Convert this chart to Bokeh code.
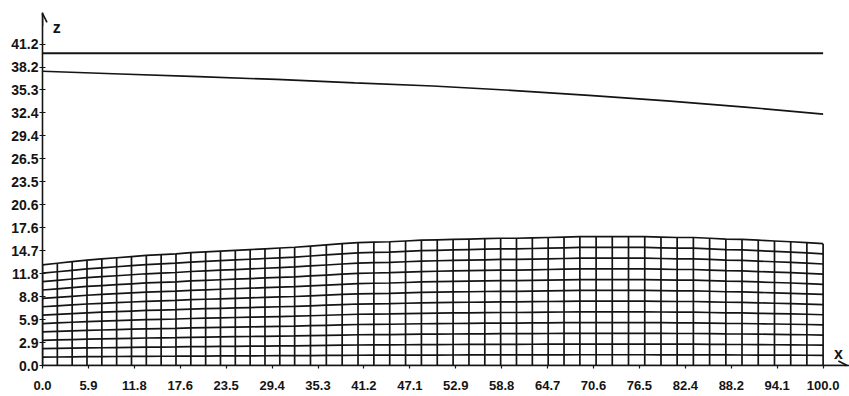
from bokeh.plotting import figure
from bokeh.models import FixedTicker, Arrow, OpenHead, Label, Range1d
from bokeh.embed import file_html
from bokeh.resources import INLINE

# ---- data ----
# x positions of the mesh columns (51 nodes)
node_x = [0.0, 1.9, 3.8, 5.7, 7.6, 9.5, 11.4, 13.3, 15.2, 17.1, 19.0,
          20.9, 22.8, 24.7, 26.6, 28.5, 30.4, 32.3, 34.33, 36.36, 38.39,
          40.42, 42.45, 44.48, 46.51, 48.54, 50.57, 52.6, 54.63, 56.66, 58.69,
          60.72, 62.75, 64.78, 66.81, 68.84, 70.92, 72.99, 75.07, 77.15, 79.23,
          81.3, 83.38, 85.46, 87.54, 89.61, 91.69, 93.77, 95.85, 97.92, 100.0]
# height of the mesh top (free surface) at each node
surface_z = [12.9, 13.1, 13.3, 13.5, 13.65, 13.8, 13.95, 14.1, 14.2, 14.3, 14.45,
             14.55, 14.65, 14.75, 14.85, 14.95, 15.05, 15.15, 15.3, 15.45, 15.6,
             15.75, 15.8, 15.85, 15.95, 16.05, 16.1, 16.15, 16.2, 16.25, 16.3,
             16.3, 16.35, 16.4, 16.45, 16.5, 16.5, 16.5, 16.5, 16.5, 16.45,
             16.4, 16.4, 16.3, 16.2, 16.15, 16.05, 15.95, 15.85, 15.75, 15.6]
n_layers = 12

# upper curve
upper_x = [0, 10, 20, 30, 40, 50, 60, 70, 80, 90, 100]
upper_z = [37.7, 37.35, 37.0, 36.65, 36.2, 35.8, 35.25, 34.6, 33.9, 33.1, 32.2]

# horizontal reference line
top_x = [0, 100]
top_z = [40.0, 40.0]

# axis ticks
x_tick_labels = ["0.0", "5.9", "11.8", "17.6", "23.5", "29.4", "35.3", "41.2", "47.1",
                 "52.9", "58.8", "64.7", "70.6", "76.5", "82.4", "88.2", "94.1", "100.0"]
x_tick_vals = [i * 100.0 / 17 for i in range(len(x_tick_labels))]
y_tick_labels = ["0.0", "2.9", "5.9", "8.8", "11.8", "14.7", "17.6", "20.6", "23.5",
                 "26.5", "29.4", "32.4", "35.3", "38.2", "41.2"]
y_tick_vals = [i * 50.0 / 17 for i in range(len(y_tick_labels))]

INK = "#141414"
FONT = "Liberation Sans"

p = figure(width=849, height=396, x_range=Range1d(0, 103.38), y_range=Range1d(0, 45.22),
           output_backend="svg", toolbar_location=None,
           min_border_left=42, min_border_right=0, min_border_top=12, min_border_bottom=31)
p.outline_line_color = None
p.xgrid.visible = False
p.ygrid.visible = False
p.background_fill_color = "white"

# mesh: vertical lines
vx = [[x, x] for x in node_x]
vy = [[0, z] for z in surface_z]
p.multi_line(vx, vy, line_color=INK, line_width=1.7)
# mesh: sigma layer lines
hx = [node_x for j in range(n_layers + 1)]
hy = [[z * j / n_layers for z in surface_z] for j in range(n_layers + 1)]
p.multi_line(hx, hy, line_color=INK, line_width=1.7)

p.line(upper_x, upper_z, line_color=INK, line_width=1.6)
p.line(top_x, top_z, line_color=INK, line_width=2)

# axes
for ax in (p.xaxis[0], p.yaxis[0]):
    ax.axis_line_color = INK
    ax.axis_line_width = 1.6
    ax.major_tick_line_color = INK
    ax.major_tick_line_width = 1.2
    ax.minor_tick_line_color = None
    ax.major_label_text_font = FONT
    ax.major_label_text_font_style = "bold"
    ax.major_label_text_color = INK

p.xaxis.ticker = FixedTicker(ticks=x_tick_vals)
p.xaxis.major_label_overrides = {v: s for v, s in zip(x_tick_vals, x_tick_labels)}
p.xaxis.major_tick_in = 0
p.xaxis.major_tick_out = 3
p.xaxis.major_label_standoff = 12
p.xaxis.major_label_text_font_size = "13px"

p.yaxis.ticker = FixedTicker(ticks=y_tick_vals)
p.yaxis.major_label_overrides = {v: s for v, s in zip(y_tick_vals, y_tick_labels)}
p.yaxis.major_tick_in = 3
p.yaxis.major_tick_out = 3
p.yaxis.major_label_standoff = 1
p.yaxis.major_label_text_font_size = "14px"

# arrow heads
p.add_layout(Arrow(end=OpenHead(size=9, line_color=INK, line_width=1.6),
                   x_start=0, y_start=43.5, x_end=0, y_end=45.1,
                   line_color=INK, line_width=1.6))
p.add_layout(Arrow(end=OpenHead(size=9, line_color=INK, line_width=1.6),
                   x_start=100, y_start=0, x_end=103.1, y_end=0,
                   line_color=INK, line_width=1.6))

p.add_layout(Label(x=1.3, y=43.3, text="z", text_font=FONT, text_font_size="16px",
                   text_font_style="bold", text_color=INK, text_baseline="alphabetic"))
p.add_layout(Label(x=101.4, y=1.5, text="x", text_font=FONT, text_font_size="16px",
                   text_font_style="bold", text_color=INK, text_baseline="alphabetic"))

open("out.html", "w").write(file_html(p, INLINE))
